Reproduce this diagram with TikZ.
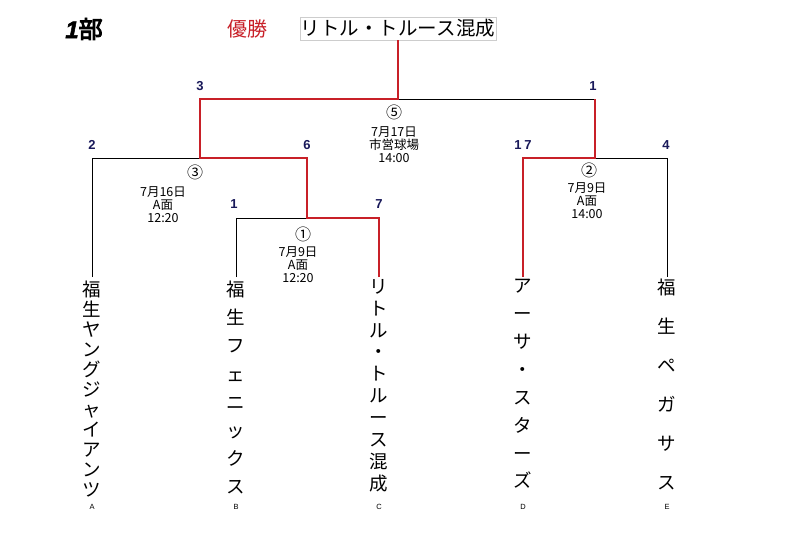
\documentclass[tikz,border=0pt]{standalone}
\usepackage{fontspec}
\setmainfont{Liberation Sans}
\newfontfamily\jp{Noto Sans CJK JP}
\newfontfamily\jpb[FakeBold=4]{Noto Sans CJK JP}
\newfontfamily\lsb[FakeBold=2]{Liberation Sans}
\definecolor{winred}{RGB}{200,32,40}
\definecolor{navy}{RGB}{25,25,90}
\definecolor{boxgray}{RGB}{205,205,205}
\tikzset{
  thin line/.style={draw=black, line width=1pt},
  win line/.style={draw=winred, line width=2pt},
  score/.style={font=\bfseries\fontsize{13}{14}\selectfont, text=navy, inner sep=0pt},
  circnum/.style={font=\jp\fontsize{16}{16}\selectfont, inner sep=0pt},
  info/.style={font=\jp\fontsize{12.5}{13}\selectfont, align=center, inner sep=0pt},
  team/.style={font=\jp\fontsize{18.5}{#1}\selectfont, align=center, inner sep=0pt, anchor=north},
  letter/.style={font=\fontsize{7.5}{8}\selectfont, inner sep=0pt}
}
\begin{document}
\begin{tikzpicture}[x=1pt,y=-1pt]
\useasboundingbox[fill=white] (0,0) rectangle (800,535);
% header
\node[font=\jpb\fontsize{24}{24}\selectfont, inner sep=0pt] (title) at (84,29) {{\lsb\bfseries\itshape 1}部};
\node[font=\jp\fontsize{20}{20}\selectfont, text=winred, inner sep=0pt] (yusho) at (247,29) {優勝};
\node[draw=boxgray, line width=0.8pt, font=\jp\fontsize{19.5}{20}\selectfont, minimum width=192pt, minimum height=23pt, inner sep=1pt] (winner) at (398,28.5) {リトル・トルース混成};
% coordinates
\coordinate (a1) at (92,158);  \coordinate (a) at (92,277);
\coordinate (b1) at (236,218); \coordinate (b) at (236,277);
\coordinate (c1) at (379,218); \coordinate (c) at (379,277);
\coordinate (d1) at (523,158); \coordinate (d) at (523,277);
\coordinate (e1) at (667,158); \coordinate (e) at (667,277);
\coordinate (m1) at (307,218); \coordinate (m1t) at (307,158);
\coordinate (m3) at (200,158); \coordinate (m3t) at (200,99);
\coordinate (w) at (398,99);
\coordinate (m2) at (595,158); \coordinate (m2t) at (595,99);
% black lines
\draw[thin line] (a) -- (a1) -- (m3);
\draw[thin line] (b) -- (b1) -- (m1);
\draw[thin line] (w) -- (m2t);
\draw[thin line] (m2) -- (e1) -- (e);
% red lines
\draw[win line, line join=miter] (c) -- (c1) -- (m1) -- (m1t) -- (m3) -- (m3t) -- (w) -- (winner.south);
\draw[win line, line join=miter] (d) -- (d1) -- (m2) -- (m2t);
% scores
\node[score] (s3) at (200,86) {3};
\node[score] (s1r) at (593,86) {1};
\node[score] (s2) at (92,145) {2};
\node[score] (s6) at (307,145) {6};
\node[score] (s17) at (523,145) {1\hspace{3pt}7};
\node[score] (s4) at (666,145) {4};
\node[score] (s1b) at (234,204) {1};
\node[score] (s7) at (379,204) {7};
% match info
\node[circnum] (c5) at (394,112) {⑤};
\node[info, anchor=north] (i5) at (394,126) {7月17日\\市営球場\\14:00};
\node[circnum] (c3) at (195,172) {③};
\node[info, anchor=north] (i3) at (163,186) {7月16日\\A面\\12:20};
\node[circnum] (c1n) at (303,234) {①};
\node[info, anchor=north] (i1) at (298,246) {7月9日\\A面\\12:20};
\node[circnum] (c2) at (589,170) {②};
\node[info, anchor=north] (i2) at (587,182) {7月9日\\A面\\14:00};
% teams
\node[team=20] (ta) at (92,281) {福\\生\\ヤ\\ン\\グ\\ジ\\ャ\\イ\\ア\\ン\\ツ};
\node[team=28.1] (tb) at (236,281) {福\\生\\フ\\ェ\\ニ\\ッ\\ク\\ス};
\node[team=21.9] (tc) at (379,279) {リ\\ト\\ル\\・\\ト\\ル\\ー\\ス\\混\\成};
\node[team=27.9] (td) at (523,279) {ア\\ー\\サ\\・\\ス\\タ\\ー\\ズ};
\node[team=39] (te) at (667,279) {福\\生\\ペ\\ガ\\サ\\ス};
% letters
\node[letter] (la) at (92,507) {A};
\node[letter] (lb) at (236,507) {B};
\node[letter] (lc) at (379,507) {C};
\node[letter] (ld) at (523,507) {D};
\node[letter] (le) at (667,507) {E};
\end{tikzpicture}
\end{document}
